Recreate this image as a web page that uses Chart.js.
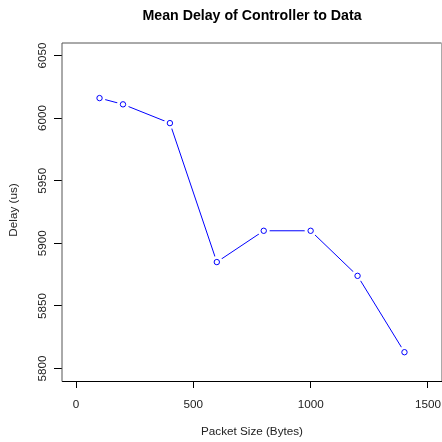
<!DOCTYPE html>
<html>
<head>
<meta charset="utf-8">
<title>Mean Delay of Controller to Data</title>
<script src="https://cdn.jsdelivr.net/npm/chart.js@4.4.1/dist/chart.umd.min.js"></script>
<style>
  html, body { margin: 0; padding: 0; background: #fff; }
</style>
</head>
<body>
<canvas id="delayChart" width="442" height="442"></canvas>
<script>
// --- data ---
const packetSizes = [100, 200, 400, 600, 800, 1000, 1200, 1400];   // bytes
const meanDelay   = [6016, 6011, 5996, 5885, 5910, 5910, 5874, 5813]; // us
const xTicks = [0, 500, 1000, 1500];
const yTicks = [5800, 5850, 5900, 5950, 6000, 6050];

const chartTitle = "Mean Delay of Controller to Data";
const xTitle = "Packet Size (Bytes)";
const yTitle = "Delay (us)";

const FONT = '"Liberation Sans", Arial, sans-serif';
const AXIS_SIZE = 11.7;
const BLUE = '#0000ff';

const points = packetSizes.map((x, i) => ({ x: x, y: meanDelay[i] }));

// draws the R-style frame, rotated y labels and titles
const rStylePlot = {
  id: 'rStylePlot',
  afterDraw(chart) {
    const ctx = chart.ctx;
    const a = chart.chartArea;
    const yScale = chart.scales.y;
    const midX = (a.left + a.right) / 2;
    ctx.save();

    // plot box
    ctx.lineWidth = 1;
    ctx.strokeStyle = '#000';
    ctx.beginPath();
    ctx.moveTo(a.left, a.bottom + 0.5);
    ctx.lineTo(a.right + 1, a.bottom + 0.5);
    ctx.stroke();
    ctx.strokeStyle = '#555';
    ctx.beginPath();
    ctx.moveTo(a.left, a.bottom + 0.5);
    ctx.lineTo(a.left, a.top);
    ctx.lineTo(a.right - 0.5, a.top);
    ctx.stroke();
    ctx.strokeStyle = '#aaa';
    ctx.beginPath();
    ctx.moveTo(a.right - 0.5, a.top);
    ctx.lineTo(a.right - 0.5, a.bottom);
    ctx.stroke();

    ctx.fillStyle = '#222';

    // y tick labels, turned like R's default (las = 0)
    ctx.font = AXIS_SIZE + 'px ' + FONT;
    ctx.textAlign = 'center';
    ctx.textBaseline = 'alphabetic';
    yTicks.forEach(v => {
      ctx.save();
      ctx.translate(a.left - 16.5, yScale.getPixelForValue(v));
      ctx.rotate(-Math.PI / 2);
      ctx.fillText(String(v), 0, 0);
      ctx.restore();
    });

    // y axis title
    ctx.save();
    ctx.translate(16.5, (a.top + a.bottom) / 2 - 2);
    ctx.rotate(-Math.PI / 2);
    ctx.fillText(yTitle, 0, 0);
    ctx.restore();

    // x axis title
    ctx.fillText(xTitle, midX, 435);

    // main title
    ctx.fillStyle = '#000';
    ctx.font = 'bold 14.2px ' + FONT;
    ctx.fillText(chartTitle, midX, 20);

    ctx.restore();
  }
};

new Chart(document.getElementById('delayChart'), {
  type: 'scatter',
  data: {
    datasets: [
      {
        // line with white discs at the points, gives R's type="b" gaps
        data: points,
        showLine: true,
        borderColor: BLUE,
        borderWidth: 1,
        pointRadius: 6,
        pointBackgroundColor: '#fff',
        pointBorderWidth: 0,
        pointBorderColor: '#fff',
        order: 2
      },
      {
        data: points,
        showLine: false,
        pointRadius: 2.7,
        pointBackgroundColor: '#fff',
        pointBorderColor: BLUE,
        pointBorderWidth: 1,
        order: 1
      }
    ]
  },
  options: {
    responsive: false,
    animation: false,
    events: [],
    layout: { autoPadding: false, padding: { top: 43, right: 0, left: 0, bottom: 0 } },
    plugins: {
      legend: { display: false },
      title: { display: false },
      tooltip: { enabled: false }
    },
    scales: {
      x: {
        type: 'linear',
        min: -60,
        max: 1560,
        afterBuildTicks: s => { s.ticks = xTicks.map(v => ({ value: v })); },
        afterFit: s => { s.height = 61; s.paddingLeft = 0; s.paddingRight = 0; },
        border: { display: false },
        grid: { drawOnChartArea: false, drawTicks: true, tickLength: 7, color: '#000' },
        ticks: {
          color: '#222',
          font: { family: FONT, size: AXIS_SIZE },
          padding: 10,
          maxRotation: 0,
          autoSkip: false,
          callback: v => String(v)
        }
      },
      y: {
        type: 'linear',
        min: 5790,
        max: 6060,
        afterBuildTicks: s => { s.ticks = yTicks.map(v => ({ value: v })); },
        afterFit: s => { s.width = 62; s.paddingTop = 0; s.paddingBottom = 0; },
        border: { display: false },
        grid: { drawOnChartArea: false, drawTicks: true, tickLength: 8, color: '#000' },
        ticks: { display: false }
      }
    }
  },
  plugins: [rStylePlot]
});
</script>
</body>
</html>
